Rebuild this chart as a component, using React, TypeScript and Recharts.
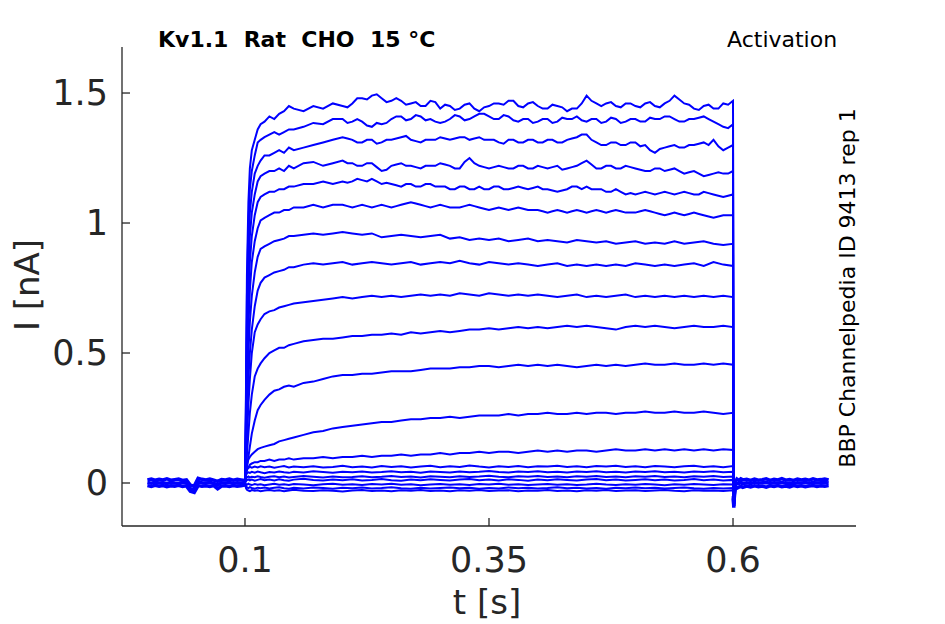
import { LineChart, Line, XAxis, YAxis } from "recharts";

// time base of the voltage step (s)
const STEP_T = [
  0.1, 0.101, 0.102, 0.1035, 0.105, 0.107, 0.11, 0.113, 0.116, 0.12, 0.125,
  0.13, 0.135, 0.14, 0.145, 0.15, 0.16, 0.17, 0.18, 0.19, 0.2,
  0.21, 0.22, 0.23, 0.24, 0.25, 0.26, 0.27, 0.28, 0.29, 0.3,
  0.31, 0.32, 0.33, 0.34, 0.35, 0.36, 0.37, 0.38, 0.39, 0.4,
  0.41, 0.42, 0.43, 0.44, 0.45, 0.46, 0.47, 0.48, 0.49, 0.5,
  0.51, 0.52, 0.53, 0.54, 0.55, 0.56, 0.57, 0.58, 0.59, 0.6,
];
// extra samples of the noisier upper sweeps
const MID_T = [
  0.205, 0.215, 0.225, 0.235, 0.245, 0.255, 0.265, 0.275, 0.285, 0.295,
  0.305, 0.315, 0.325, 0.335, 0.345, 0.355, 0.365, 0.375, 0.385, 0.395,
  0.405, 0.415, 0.425, 0.435, 0.445, 0.455, 0.465, 0.475, 0.485, 0.495,
  0.505, 0.515, 0.525, 0.535, 0.545, 0.555, 0.565, 0.575, 0.585, 0.595,
];

// current sweeps (nA), top to bottom
const SWEEP_A = [
  0, 0.35, 0.8, 1.08, 1.21, 1.28, 1.32, 1.36, 1.38, 1.39, 1.41,
  1.4, 1.42, 1.43, 1.45, 1.44, 1.43, 1.45, 1.44, 1.46, 1.45,
  1.46, 1.48, 1.49, 1.48, 1.47, 1.47, 1.46, 1.45, 1.47, 1.44,
  1.45, 1.44, 1.46, 1.43, 1.45, 1.46, 1.47, 1.45, 1.46, 1.45,
  1.44, 1.45, 1.43, 1.44, 1.49, 1.46, 1.46, 1.45, 1.46, 1.45,
  1.46, 1.45, 1.46, 1.49, 1.46, 1.44, 1.45, 1.44, 1.46, 1.47,
];
const MID_A = [
  1.445, 1.48, 1.475, 1.495, 1.465, 1.48, 1.455, 1.465, 1.45, 1.465,
  1.455, 1.435, 1.455, 1.44, 1.445, 1.46, 1.455, 1.47, 1.445, 1.465,
  1.44, 1.455, 1.445, 1.44, 1.46, 1.47, 1.45, 1.465, 1.445, 1.46,
  1.445, 1.465, 1.445, 1.47, 1.475, 1.455, 1.435, 1.455, 1.44, 1.455,
];
const SWEEP_B = [
  0, 0.3, 0.72, 1.0, 1.13, 1.2, 1.26, 1.31, 1.32, 1.33, 1.34,
  1.35, 1.34, 1.35, 1.36, 1.36, 1.37, 1.385, 1.38, 1.4, 1.4,
  1.39, 1.39, 1.37, 1.38, 1.4, 1.41, 1.4, 1.41, 1.4, 1.385,
  1.4, 1.41, 1.4, 1.42, 1.41, 1.4, 1.41, 1.39, 1.4, 1.39,
  1.4, 1.39, 1.4, 1.41, 1.39, 1.4, 1.39, 1.4, 1.39, 1.4,
  1.39, 1.4, 1.41, 1.4, 1.39, 1.4, 1.41, 1.39, 1.37, 1.38,
];
const MID_B = [
  1.385, 1.4, 1.375, 1.385, 1.385, 1.41, 1.395, 1.415, 1.395, 1.39,
  1.39, 1.415, 1.395, 1.41, 1.42, 1.4, 1.415, 1.395, 1.4, 1.385,
  1.4, 1.385, 1.405, 1.4, 1.395, 1.4, 1.385, 1.405, 1.385, 1.4,
  1.39, 1.405, 1.4, 1.41, 1.39, 1.4, 1.405, 1.4, 1.38, 1.365,
];
const SWEEP_C = [
  0, 0.25, 0.62, 0.9, 1.04, 1.12, 1.19, 1.22, 1.24, 1.26, 1.26,
  1.27, 1.28, 1.27, 1.29, 1.28, 1.29, 1.3, 1.31, 1.32, 1.33,
  1.32, 1.31, 1.32, 1.31, 1.32, 1.33, 1.32, 1.31, 1.32, 1.33,
  1.32, 1.33, 1.32, 1.33, 1.32, 1.31, 1.32, 1.31, 1.32, 1.31,
  1.32, 1.31, 1.32, 1.33, 1.34, 1.31, 1.3, 1.31, 1.3, 1.31,
  1.3, 1.27, 1.29, 1.3, 1.29, 1.3, 1.31, 1.32, 1.28, 1.3,
];
const MID_C = [
  1.325, 1.31, 1.32, 1.305, 1.32, 1.325, 1.335, 1.315, 1.32, 1.32,
  1.325, 1.325, 1.33, 1.325, 1.32, 1.32, 1.305, 1.32, 1.31, 1.32,
  1.31, 1.32, 1.31, 1.325, 1.34, 1.32, 1.3, 1.31, 1.3, 1.31,
  1.295, 1.28, 1.285, 1.295, 1.29, 1.3, 1.305, 1.3, 1.295, 1.29,
];
const SWEEP_D = [
  0, 0.22, 0.55, 0.8, 0.95, 1.04, 1.11, 1.16, 1.18, 1.19, 1.2,
  1.2, 1.21, 1.2, 1.22, 1.21, 1.23, 1.235, 1.22, 1.23, 1.24,
  1.23, 1.22, 1.23, 1.2, 1.22, 1.23, 1.22, 1.21, 1.22, 1.23,
  1.22, 1.21, 1.25, 1.22, 1.21, 1.22, 1.21, 1.22, 1.21, 1.22,
  1.21, 1.22, 1.21, 1.22, 1.24, 1.21, 1.22, 1.21, 1.22, 1.21,
  1.2, 1.21, 1.2, 1.21, 1.19, 1.2, 1.18, 1.19, 1.19, 1.2,
];
const MID_D = [
  1.23, 1.22, 1.23, 1.215, 1.205, 1.225, 1.22, 1.215, 1.22, 1.22,
  1.225, 1.21, 1.235, 1.23, 1.215, 1.215, 1.215, 1.21, 1.22, 1.21,
  1.215, 1.215, 1.205, 1.215, 1.23, 1.225, 1.21, 1.22, 1.21, 1.215,
  1.205, 1.2, 1.21, 1.205, 1.2, 1.195, 1.19, 1.185, 1.195, 1.19,
];
const SWEEP_E = [
  0, 0.19, 0.48, 0.7, 0.85, 0.95, 1.03, 1.08, 1.1, 1.11, 1.12,
  1.12, 1.13, 1.13, 1.14, 1.14, 1.15, 1.15, 1.16, 1.15, 1.16,
  1.16, 1.165, 1.17, 1.15, 1.15, 1.14, 1.15, 1.14, 1.15, 1.14,
  1.13, 1.14, 1.13, 1.14, 1.13, 1.14, 1.13, 1.14, 1.13, 1.14,
  1.13, 1.12, 1.13, 1.14, 1.14, 1.13, 1.12, 1.13, 1.11, 1.11,
  1.12, 1.11, 1.12, 1.11, 1.12, 1.11, 1.12, 1.11, 1.1, 1.11,
];
const MID_E = [
  1.155, 1.17, 1.16, 1.16, 1.155, 1.145, 1.15, 1.14, 1.15, 1.14,
  1.14, 1.13, 1.14, 1.13, 1.13, 1.14, 1.13, 1.135, 1.135, 1.135,
  1.13, 1.125, 1.125, 1.14, 1.13, 1.13, 1.13, 1.12, 1.12, 1.115,
  1.115, 1.115, 1.115, 1.115, 1.115, 1.115, 1.11, 1.115, 1.105, 1.105,
];
const SWEEP_F = [
  0, 0.15, 0.4, 0.6, 0.74, 0.85, 0.93, 0.98, 1.01, 1.02, 1.03,
  1.04, 1.04, 1.05, 1.05, 1.06, 1.06, 1.07, 1.06, 1.07, 1.07,
  1.06, 1.07, 1.06, 1.07, 1.06, 1.07, 1.08, 1.07, 1.06, 1.07,
  1.06, 1.06, 1.07, 1.06, 1.05, 1.06, 1.05, 1.06, 1.05, 1.05,
  1.04, 1.05, 1.04, 1.05, 1.04, 1.05, 1.04, 1.05, 1.04, 1.04,
  1.05, 1.04, 1.03, 1.04, 1.03, 1.04, 1.03, 1.02, 1.03, 1.03,
];
const MID_F = [
  1.065, 1.065, 1.065, 1.065, 1.065, 1.065, 1.075, 1.075, 1.065, 1.065,
  1.065, 1.06, 1.065, 1.065, 1.055, 1.055, 1.055, 1.055, 1.055, 1.05,
  1.045, 1.045, 1.045, 1.045, 1.045, 1.045, 1.045, 1.045, 1.045, 1.04,
  1.045, 1.045, 1.035, 1.035, 1.035, 1.035, 1.035, 1.025, 1.025, 1.03,
];
const SWEEP_G = [
  0, 0.12, 0.32, 0.5, 0.62, 0.72, 0.81, 0.87, 0.9, 0.91, 0.92,
  0.93, 0.935, 0.94, 0.95, 0.95, 0.955, 0.96, 0.955, 0.96, 0.965,
  0.96, 0.955, 0.96, 0.945, 0.95, 0.955, 0.95, 0.945, 0.95, 0.955,
  0.94, 0.945, 0.935, 0.94, 0.935, 0.94, 0.93, 0.935, 0.94, 0.93,
  0.935, 0.93, 0.925, 0.935, 0.93, 0.925, 0.93, 0.92, 0.925, 0.93,
  0.92, 0.925, 0.92, 0.93, 0.92, 0.925, 0.93, 0.92, 0.915, 0.92,
];
const SWEEP_H = [
  0, 0.09, 0.25, 0.4, 0.5, 0.59, 0.68, 0.74, 0.77, 0.79, 0.8,
  0.81, 0.815, 0.82, 0.83, 0.83, 0.84, 0.845, 0.84, 0.845, 0.85,
  0.84, 0.845, 0.85, 0.845, 0.84, 0.845, 0.85, 0.84, 0.845, 0.85,
  0.845, 0.855, 0.845, 0.84, 0.85, 0.845, 0.84, 0.845, 0.84, 0.835,
  0.84, 0.845, 0.835, 0.84, 0.835, 0.84, 0.835, 0.84, 0.835, 0.845,
  0.84, 0.835, 0.84, 0.835, 0.84, 0.845, 0.835, 0.85, 0.84, 0.835,
];
const SWEEP_I = [
  0, 0.06, 0.17, 0.3, 0.4, 0.5, 0.58, 0.61, 0.63, 0.65, 0.66,
  0.665, 0.675, 0.68, 0.685, 0.69, 0.695, 0.7, 0.705, 0.71, 0.715,
  0.71, 0.715, 0.72, 0.715, 0.72, 0.715, 0.72, 0.725, 0.72, 0.725,
  0.72, 0.73, 0.725, 0.72, 0.73, 0.725, 0.72, 0.725, 0.72, 0.725,
  0.72, 0.715, 0.72, 0.725, 0.715, 0.72, 0.715, 0.72, 0.725, 0.715,
  0.72, 0.715, 0.72, 0.715, 0.72, 0.715, 0.72, 0.715, 0.72, 0.715,
];
const SWEEP_J = [
  0, 0.04, 0.11, 0.19, 0.27, 0.34, 0.41, 0.44, 0.46, 0.48, 0.5,
  0.51, 0.52, 0.52, 0.53, 0.535, 0.545, 0.55, 0.555, 0.555, 0.56,
  0.565, 0.565, 0.57, 0.57, 0.575, 0.57, 0.58, 0.575, 0.58, 0.585,
  0.58, 0.585, 0.59, 0.59, 0.595, 0.59, 0.595, 0.6, 0.595, 0.6,
  0.595, 0.6, 0.605, 0.6, 0.605, 0.6, 0.595, 0.59, 0.6, 0.605,
  0.6, 0.605, 0.6, 0.595, 0.6, 0.605, 0.6, 0.6, 0.605, 0.6,
];
const SWEEP_K = [
  0, 0.03, 0.06, 0.1, 0.14, 0.19, 0.24, 0.28, 0.3, 0.32, 0.34,
  0.355, 0.36, 0.37, 0.375, 0.37, 0.385, 0.39, 0.4, 0.41, 0.415,
  0.415, 0.42, 0.42, 0.425, 0.43, 0.43, 0.43, 0.435, 0.44, 0.44,
  0.44, 0.445, 0.445, 0.45, 0.45, 0.445, 0.45, 0.455, 0.45, 0.455,
  0.45, 0.455, 0.45, 0.445, 0.45, 0.455, 0.45, 0.455, 0.45, 0.455,
  0.46, 0.455, 0.455, 0.46, 0.455, 0.455, 0.46, 0.455, 0.46, 0.455,
];
const SWEEP_L = [
  0, 0.04, 0.07, 0.09, 0.1, 0.11, 0.12, 0.13, 0.135, 0.14, 0.145,
  0.15, 0.16, 0.165, 0.17, 0.175, 0.185, 0.195, 0.2, 0.21, 0.215,
  0.22, 0.225, 0.23, 0.235, 0.235, 0.24, 0.245, 0.245, 0.25, 0.25,
  0.255, 0.25, 0.255, 0.26, 0.26, 0.26, 0.265, 0.26, 0.265, 0.265,
  0.27, 0.265, 0.265, 0.27, 0.265, 0.27, 0.27, 0.265, 0.27, 0.27,
  0.275, 0.27, 0.27, 0.275, 0.27, 0.27, 0.275, 0.27, 0.265, 0.27,
];
const SWEEP_M = [
  0, 0.03, 0.05, 0.06, 0.07, 0.075, 0.08, 0.08, 0.085, 0.085, 0.09,
  0.085, 0.09, 0.09, 0.095, 0.09, 0.095, 0.095, 0.1, 0.095, 0.1,
  0.1, 0.105, 0.1, 0.105, 0.105, 0.11, 0.105, 0.11, 0.11, 0.115,
  0.11, 0.115, 0.115, 0.12, 0.115, 0.12, 0.12, 0.115, 0.12, 0.125,
  0.12, 0.125, 0.12, 0.125, 0.125, 0.12, 0.125, 0.13, 0.125, 0.125,
  0.13, 0.125, 0.13, 0.125, 0.13, 0.125, 0.13, 0.125, 0.13, 0.127,
];
const SWEEP_N1 = [
  0, 0.045, 0.055, 0.058, 0.062, 0.059, 0.063, 0.06, 0.064, 0.061, 0.063,
  0.059, 0.062, 0.065, 0.06, 0.063, 0.061, 0.064, 0.06, 0.062, 0.066,
  0.061, 0.063, 0.06, 0.065, 0.062, 0.064, 0.06, 0.063, 0.066, 0.061,
  0.064, 0.062, 0.067, 0.063, 0.06, 0.064, 0.062, 0.065, 0.061, 0.064,
  0.063, 0.066, 0.062, 0.064, 0.061, 0.065, 0.063, 0.066, 0.062, 0.064,
  0.061, 0.065, 0.063, 0.061, 0.064, 0.066, 0.062, 0.064, 0.061, 0.065,
];
const SWEEP_N2 = [
  0, 0.03, 0.038, 0.041, 0.039, 0.043, 0.04, 0.044, 0.041, 0.038, 0.042,
  0.04, 0.044, 0.041, 0.039, 0.043, 0.04, 0.045, 0.042, 0.039, 0.043,
  0.041, 0.044, 0.04, 0.042, 0.045, 0.041, 0.043, 0.039, 0.044, 0.042,
  0.04, 0.044, 0.041, 0.043, 0.046, 0.042, 0.04, 0.044, 0.042, 0.045,
  0.041, 0.043, 0.04, 0.044, 0.042, 0.045, 0.041, 0.043, 0.04, 0.044,
  0.042, 0.045, 0.041, 0.043, 0.04, 0.044, 0.042, 0.045, 0.041, 0.043,
];
const SWEEP_N3 = [
  0, 0.018, 0.022, 0.025, 0.021, 0.024, 0.022, 0.026, 0.023, 0.02, 0.024,
  0.026, 0.022, 0.025, 0.021, 0.023, 0.027, 0.024, 0.021, 0.025, 0.022,
  0.023, 0.026, 0.022, 0.024, 0.027, 0.023, 0.025, 0.021, 0.026, 0.024,
  0.022, 0.026, 0.023, 0.025, 0.028, 0.024, 0.022, 0.026, 0.024, 0.027,
  0.023, 0.025, 0.022, 0.026, 0.024, 0.027, 0.023, 0.025, 0.022, 0.026,
  0.024, 0.027, 0.023, 0.025, 0.022, 0.026, 0.024, 0.027, 0.023, 0.025,
];
const SWEEP_N4 = [
  0, 0.008, 0.011, 0.014, 0.01, 0.013, 0.009, 0.012, 0.015, 0.011, 0.013,
  0.01, 0.014, 0.011, 0.009, 0.013, 0.016, 0.012, 0.01, 0.013, 0.011,
  0.014, 0.01, 0.012, 0.015, 0.011, 0.009, 0.013, 0.011, 0.014, 0.012,
  0.01, 0.013, 0.015, 0.011, 0.013, 0.01, 0.014, 0.012, 0.009, 0.013,
  0.011, 0.014, 0.012, 0.01, 0.013, 0.015, 0.011, 0.013, 0.01, 0.012,
  0.014, 0.011, 0.013, 0.01, 0.012, 0.015, 0.011, 0.013, 0.01, 0.012,
];
const SWEEP_N5 = [
  0, -0.004, -0.007, -0.003, -0.006, -0.008, -0.004, -0.007, -0.005, -0.009, -0.006,
  -0.003, -0.007, -0.005, -0.008, -0.004, -0.006, -0.009, -0.005, -0.003, -0.007,
  -0.005, -0.008, -0.004, -0.006, -0.003, -0.007, -0.005, -0.009, -0.006, -0.004,
  -0.007, -0.005, -0.008, -0.004, -0.006, -0.003, -0.007, -0.005, -0.008, -0.006,
  -0.004, -0.007, -0.005, -0.008, -0.006, -0.003, -0.006, -0.008, -0.005, -0.007,
  -0.004, -0.006, -0.009, -0.005, -0.007, -0.004, -0.006, -0.008, -0.005, -0.006,
];
const SWEEP_N6 = [
  0, -0.012, -0.017, -0.02, -0.016, -0.019, -0.022, -0.018, -0.02, -0.017, -0.021,
  -0.018, -0.016, -0.02, -0.022, -0.018, -0.021, -0.017, -0.019, -0.022, -0.018,
  -0.02, -0.017, -0.021, -0.019, -0.016, -0.02, -0.022, -0.018, -0.021, -0.019,
  -0.017, -0.02, -0.018, -0.022, -0.019, -0.021, -0.017, -0.02, -0.018, -0.021,
  -0.019, -0.016, -0.02, -0.018, -0.021, -0.019, -0.022, -0.018, -0.02, -0.017,
  -0.02, -0.018, -0.021, -0.019, -0.017, -0.02, -0.022, -0.019, -0.021, -0.019,
];
const SWEEP_N7 = [
  0, -0.02, -0.026, -0.029, -0.031, -0.027, -0.03, -0.028, -0.032, -0.029, -0.027,
  -0.03, -0.028, -0.032, -0.029, -0.026, -0.03, -0.031, -0.028, -0.03, -0.033,
  -0.029, -0.027, -0.031, -0.029, -0.032, -0.028, -0.03, -0.027, -0.031, -0.029,
  -0.032, -0.028, -0.03, -0.027, -0.031, -0.029, -0.028, -0.032, -0.029, -0.03,
  -0.027, -0.031, -0.029, -0.032, -0.028, -0.03, -0.027, -0.031, -0.029, -0.028,
  -0.031, -0.029, -0.027, -0.03, -0.032, -0.028, -0.03, -0.029, -0.031, -0.028,
];

// holding current before the step (overlapping sweeps drawn as a band)
const PRE_T = [
  0, 0.004, 0.008, 0.012, 0.016, 0.02, 0.024, 0.028, 0.032, 0.036, 0.04, 0.044, 0.048,
  0.052, 0.056, 0.06, 0.064, 0.068, 0.072, 0.076, 0.08, 0.084, 0.088, 0.092, 0.096, 0.1,
];
const PRE_HI = [
  0.012, 0.015, 0.011, 0.014, 0.012, 0.016, 0.011, 0.013, 0.015, 0.01, 0.012, -0.008, -0.012,
  0.018, 0.014, 0.012, 0.015, 0.011, 0.006, 0.013, 0.012, 0.015, 0.011, 0.014, 0.012, 0.01,
];
const PRE_MID = [
  0.002, -0.001, 0.003, 0, 0.001, -0.002, 0.002, 0, -0.001, 0.002, 0, -0.022, -0.025,
  0.006, 0.001, 0, 0.002, -0.001, -0.008, 0.001, 0, 0.002, -0.001, 0.001, 0, 0.001,
];
const PRE_LO = [
  -0.01, -0.013, -0.009, -0.012, -0.01, -0.014, -0.011, -0.012, -0.009, -0.013, -0.011, -0.032, -0.036,
  -0.01, -0.012, -0.011, -0.013, -0.01, -0.022, -0.012, -0.011, -0.013, -0.01, -0.012, -0.011, -0.008,
];

// tail after the step
const POST_T = [
  0.6004, 0.6008, 0.6015, 0.6025, 0.604, 0.606, 0.608, 0.61, 0.614, 0.618,
  0.622, 0.626, 0.63, 0.634, 0.638, 0.642, 0.646, 0.65, 0.654, 0.658,
  0.662, 0.666, 0.67, 0.674, 0.678, 0.682, 0.686, 0.69, 0.694, 0.698,
];
const POST_HI = [
  -0.05, -0.08, -0.03, 0.005, 0.015, 0.01, 0.016, 0.012, 0.014, 0.01,
  0.015, 0.011, 0.013, 0.016, 0.01, 0.014, 0.012, 0.017, 0.011, 0.013,
  0.01, 0.015, 0.012, 0.014, 0.011, 0.016, 0.012, 0.013, 0.015, 0.012,
];
const POST_MID = [
  -0.055, -0.088, -0.038, -0.005, -0.003, -0.002, 0.002, -0.003, 0.001, -0.002,
  0.002, -0.001, 0.001, 0.002, -0.001, 0.001, 0, 0.002, -0.001, 0,
  -0.002, 0.001, 0, 0.002, -0.001, 0.002, 0, 0.001, 0.002, 0,
];
const POST_LO = [
  -0.06, -0.095, -0.045, -0.015, -0.02, -0.016, -0.013, -0.017, -0.012, -0.015,
  -0.011, -0.014, -0.012, -0.016, -0.011, -0.013, -0.01, -0.014, -0.012, -0.015,
  -0.01, -0.013, -0.011, -0.014, -0.012, -0.01, -0.013, -0.011, -0.012, -0.01,
];

const X_TICKS = [0.1, 0.35, 0.6];
const Y_TICKS = [0, 0.5, 1, 1.5];

const SWEEPS: [number[], number[] | null][] = [
  [SWEEP_A, MID_A], [SWEEP_B, MID_B], [SWEEP_C, MID_C], [SWEEP_D, MID_D], [SWEEP_E, MID_E],
  [SWEEP_F, MID_F], [SWEEP_G, null], [SWEEP_H, null], [SWEEP_I, null], [SWEEP_J, null],
  [SWEEP_K, null], [SWEEP_L, null], [SWEEP_M, null], [SWEEP_N1, null], [SWEEP_N2, null],
  [SWEEP_N3, null], [SWEEP_N4, null], [SWEEP_N5, null], [SWEEP_N6, null], [SWEEP_N7, null],
];

const pts = (ts: number[], vs: number[]) => ts.map((t, i) => ({ t, v: vs[i] }));

const bands = [
  pts(PRE_T, PRE_HI), pts(PRE_T, PRE_MID), pts(PRE_T, PRE_LO),
  pts(POST_T, POST_HI), pts(POST_T, POST_MID), pts(POST_T, POST_LO),
];
const sweeps = SWEEPS.map(([s, mid]) =>
  [...pts(STEP_T, s), ...(mid ? pts(MID_T, mid) : []), { t: POST_T[0], v: POST_MID[0] }].sort((a, b) => a.t - b.t)
);

const AX = "#262626";
const FONT = "DejaVu Sans";
const TICK_FS = 35;
const TICK_LEN = 8;

const XTick = ({ x, y, payload }: any) => (
  <g>
    <line x1={x} x2={x} y1={y} y2={y - TICK_LEN} stroke={AX} strokeWidth={1.3} />
    <text x={x} y={y + 21} dy="0.71em" textAnchor="middle" fontFamily={FONT} fontSize={TICK_FS} fill={AX}>
      {String(payload.value)}
    </text>
  </g>
);

const YTick = ({ x, y, payload }: any) => (
  <g>
    <line x1={x} x2={x + TICK_LEN} y1={y} y2={y} stroke={AX} strokeWidth={1.3} />
    <text x={x - 14} y={y} dy="0.355em" textAnchor="end" fontFamily={FONT} fontSize={TICK_FS} fill={AX}>
      {String(payload.value)}
    </text>
  </g>
);

export default function App() {
  return (
    <div style={{ position: "absolute", left: 0, top: 0, width: 945, height: 624, background: "#fff" }}>
      <LineChart width={945} height={624} margin={{ top: 47, right: 89, bottom: 0, left: 0 }}>
        <XAxis
          type="number"
          dataKey="t"
          domain={[-0.026, 0.726]}
          allowDataOverflow
          ticks={X_TICKS}
          height={98}
          stroke={AX}
          strokeWidth={1.3}
          tickLine={false}
          tickSize={0}
          tickMargin={0}
          tick={<XTick />}
        />
        <YAxis
          type="number"
          dataKey="v"
          domain={[-0.1654, 1.677]}
          allowDataOverflow
          ticks={Y_TICKS}
          width={122}
          stroke={AX}
          strokeWidth={1.3}
          tickLine={false}
          tickSize={0}
          tickMargin={0}
          tick={<YTick />}
        />
        {bands.map((d, i) => (
          <Line key={"b" + i} data={d} dataKey="v" type="linear" stroke="#0000ff" strokeWidth={3.5} dot={false} isAnimationActive={false} />
        ))}
        {sweeps.map((d, i) => (
          <Line key={"s" + i} data={d} dataKey="v" type="linear" stroke="#0000ff" strokeWidth={2} dot={false} isAnimationActive={false} />
        ))}
      </LineChart>
      <svg width={945} height={624} style={{ position: "absolute", left: 0, top: 0, pointerEvents: "none" }}>
        <text x={158} y={47} fontFamily={FONT} fontWeight="bold" fontSize={22} fill="#000" style={{ whiteSpace: "pre" }}>
          {"Kv1.1  Rat  CHO  15 °C"}
        </text>
        <text x={727} y={47} fontFamily={FONT} fontSize={22} fill="#000">
          Activation
        </text>
        <text x={487} y={614} fontFamily={FONT} fontSize={34} fill={AX} textAnchor="middle">
          t [s]
        </text>
        <text transform="translate(39,285) rotate(-90)" fontFamily={FONT} fontSize={34} fill={AX} textAnchor="middle">
          I [nA]
        </text>
        <text transform="translate(855,288) rotate(-90)" fontFamily={FONT} fontSize={22} fill="#000" textAnchor="middle">
          BBP Channelpedia ID 9413 rep 1
        </text>
      </svg>
    </div>
  );
}
